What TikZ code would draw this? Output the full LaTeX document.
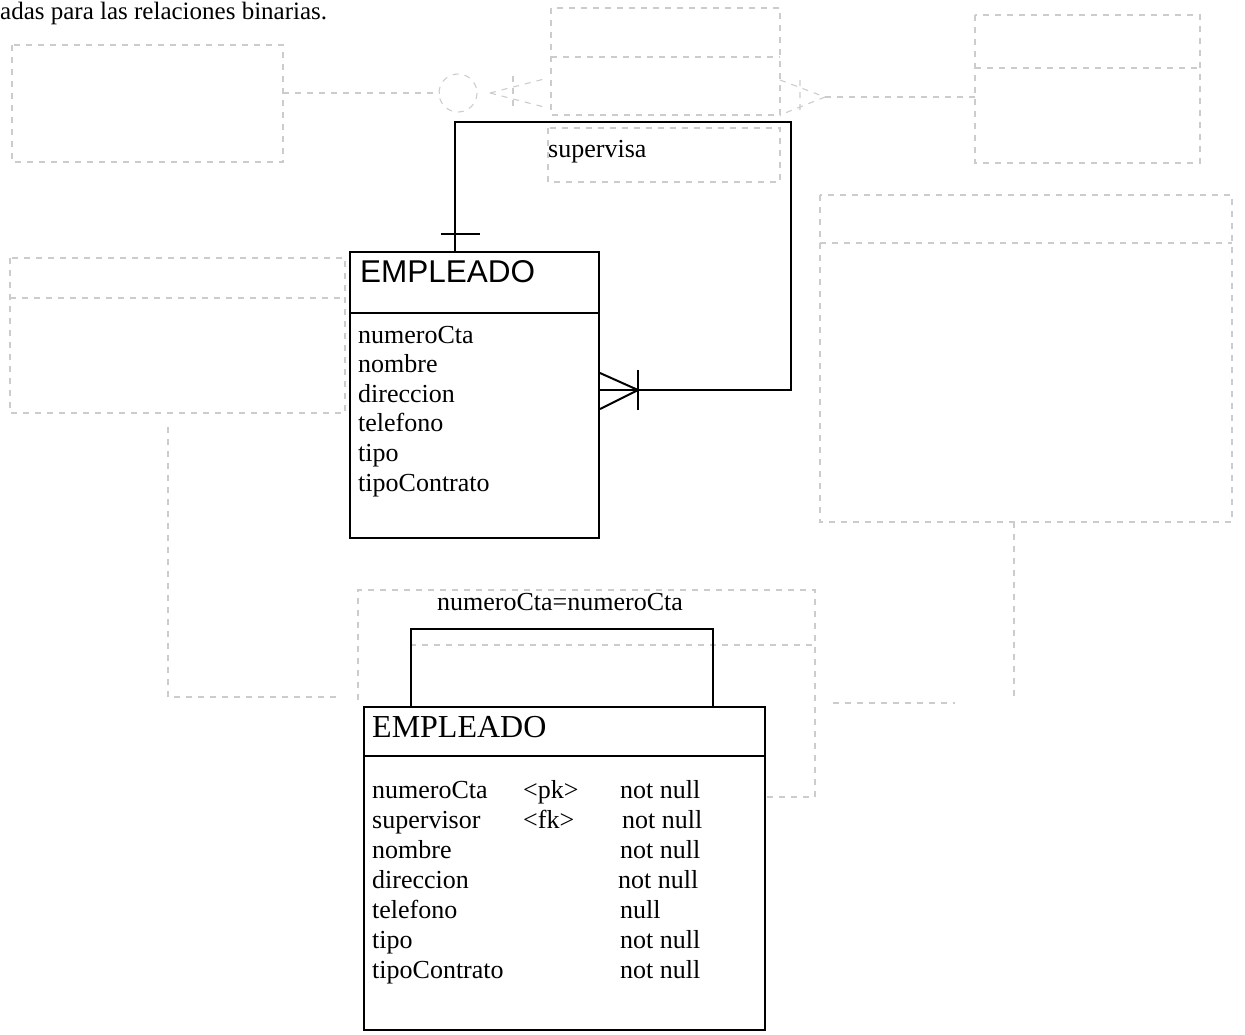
\documentclass[tikz,border=0pt]{standalone}
\usepackage{fontspec}
\setmainfont{Liberation Serif}
\newfontfamily\hsans{Liberation Sans}
\usetikzlibrary{calc}
\begin{document}
\begin{tikzpicture}[x=1pt,y=-1pt,
  entity/.style={draw, line width=2pt, rectangle, inner sep=0pt, anchor=north west},
  txt/.style={anchor=base west, inner sep=0pt, font=\fontsize{26}{30}\selectfont},
  hdrsans/.style={anchor=base west, inner sep=0pt, font=\hsans\fontsize{31.5}{36}\selectfont},
  hdrserif/.style={anchor=base west, inner sep=0pt, font=\fontsize{32}{36}\selectfont},
  rel/.style={line width=2pt},
  ghost/.style={draw=gray!40, line width=1.1pt, dash pattern=on 6pt off 6pt}]
\useasboundingbox (0,0) rectangle (1245,1034);

% ---- faint show-through shapes ----
\draw[ghost] (12,45) rectangle (283,162);
\draw[ghost] (283,93) -- (440,93);
\draw[ghost] (458,93) circle (19);
\draw[ghost] (513,76) -- (513,110);
\draw[ghost] (490,93) -- (548,78) (490,93) -- (548,108);
\draw[ghost] (551,8) rectangle (780,115);
\draw[ghost] (551,57) -- (780,57);
\draw[ghost] (548,128) rectangle (780,182);
\draw[ghost] (800,80) -- (800,115) (780,80) -- (825,97) -- (780,115);
\draw[ghost] (825,97) -- (975,97);
\draw[ghost] (975,15) rectangle (1200,163);
\draw[ghost] (975,68) -- (1200,68);
\draw[ghost] (820,195) rectangle (1232,522);
\draw[ghost] (820,243) -- (1232,243);
\draw[ghost] (1014,522) -- (1014,697);
\draw[ghost] (833,703) -- (955,703);
\draw[ghost] (10,258) rectangle (345,413);
\draw[ghost] (10,298) -- (345,298);
\draw[ghost] (168,427) -- (168,697) -- (340,697);
\draw[ghost] (358,700) -- (358,590) -- (815,590) -- (815,797) -- (765,797);
\draw[ghost] (410,645) -- (815,645);

% ---- page text ----
\node[anchor=base west, inner sep=0pt, font=\fontsize{25}{30}\selectfont] (cap) at (0,19) {adas para las relaciones binarias.};

% ---- conceptual entity ----
\node[entity, minimum width=249pt, minimum height=286pt] (emp1) at (349,251) {};
\draw[rel] (emp1.west |- 0,313) -- (emp1.east |- 0,313);
\node[hdrsans] (e1h) at (360,282) {EMPLEADO};
\node[txt] (a1) at (358,343) {numeroCta};
\node[txt] (a2) at (358,372.6) {nombre};
\node[txt] (a3) at (358,402.2) {direccion};
\node[txt] (a4) at (358,431.8) {telefono};
\node[txt] (a5) at (358,461.4) {tipo};
\node[txt] (a6) at (358,491) {tipoContrato};

% self relationship "supervisa"
\coordinate (sTop) at ($(emp1.north west)+(106,0)$);
\coordinate (sEnd) at (emp1.east |- 0,390);
\coordinate (sCorner) at (791,122);
\draw[rel] (sTop) |- (sCorner) |- (sEnd);
\draw[rel] ($(sTop)+(-14,-17)$) -- ($(sTop)+(25,-17)$);
\draw[rel] ($(sEnd)+(0,-17)$) -- ($(sEnd)+(38,0)$) -- ($(sEnd)+(0,19)$);
\draw[rel] ($(sEnd)+(38,-20)$) -- ($(sEnd)+(38,20)$);
\node[txt] (lsup) at (548,157) {supervisa};

% ---- physical table ----
\node[entity, minimum width=401pt, minimum height=323pt] (emp2) at (363,706) {};
\draw[rel] (emp2.west |- 0,756) -- (emp2.east |- 0,756);
\node[hdrserif] (e2h) at (372,737) {EMPLEADO};
\coordinate (fA) at ($(emp2.north west)+(48,0)$);
\coordinate (fB) at ($(emp2.north west)+(350,0)$);
\draw[rel] (fA) |- ($(fB)+(0,-77)$) -- (fB);
\node[txt] (lfk) at (437,610) {numeroCta=numeroCta};

\node[txt] (b1) at (372,798) {numeroCta};
\node[txt] (b2) at (372,828) {supervisor};
\node[txt] (b3) at (372,858) {nombre};
\node[txt] (b4) at (372,888) {direccion};
\node[txt] (b5) at (372,918) {telefono};
\node[txt] (b6) at (372,948) {tipo};
\node[txt] (b7) at (372,978) {tipoContrato};
\node[txt] (k1) at (523,798) {<pk>};
\node[txt] (k2) at (523,828) {<fk>};
\node[txt] (n1) at (620,798) {not null};
\node[txt] (n2) at (622,828) {not null};
\node[txt] (n3) at (620,858) {not null};
\node[txt] (n4) at (618,888) {not null};
\node[txt] (n5) at (620,918) {null};
\node[txt] (n6) at (620,948) {not null};
\node[txt] (n7) at (620,978) {not null};
\end{tikzpicture}
\end{document}
